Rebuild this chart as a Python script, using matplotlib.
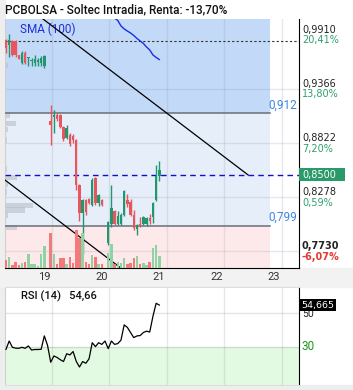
import matplotlib
matplotlib.use("Agg")
import matplotlib.pyplot as plt
import matplotlib.transforms as mtransforms
from matplotlib.patches import Rectangle
import numpy as np

# ---------------- data ----------------
opens = [0.9863, 0.9812, 0.9847, 0.9847, 0.9706, 0.9631, 0.9732, 0.9678, 0.9648, 0.9631, 0.9640, 0.9631, 0.9595,
         np.nan,
         0.9047, 0.9087, 0.9104, 0.9104, 0.8986, 0.8869, 0.8903, 0.8893, 0.8852, 0.8399, 0.8117, 0.8248, 0.8258,
         0.8197, 0.8466, 0.8218, 0.8248,
         np.nan,
         0.7815, 0.8006, 0.8137, 0.8006, 0.8006, 0.8097, 0.8248, 0.8228, 0.8097, 0.7956, 0.8006, 0.8006, 0.8006,
         0.8066, 0.8077, 0.8248, 0.8490]
highs = [0.9873, 0.9920, 0.9863, 0.9855, 0.9712, 0.9744, 0.9744, 0.9688, 0.9678, 0.9712, 0.9678, 0.9695, 0.9712,
         np.nan,
         0.9205, 0.9154, 0.9121, 0.9110, 0.8996, 0.9003, 0.8920, 0.8910, 0.8859, 0.8409, 0.8260, 0.8258, 0.8268,
         0.8466, 0.8476, 0.8310, 0.8258,
         np.nan,
         0.8036, 0.8399, 0.8147, 0.8137, 0.8117, 0.8351, 0.8308, 0.8258, 0.8147, 0.8006, 0.8077, 0.8087, 0.8077,
         0.8107, 0.8228, 0.8600, 0.8640]
lows = [0.9729, 0.9688, 0.9700, 0.9690, 0.9665, 0.9614, 0.9620, 0.9595, 0.9598, 0.9595, 0.9595, 0.9595, 0.9578,
        np.nan,
        0.8802, 0.8923, 0.9047, 0.8970, 0.8840, 0.8859, 0.8795, 0.8818, 0.8349, 0.8036, 0.7700, 0.8097, 0.8208,
        0.8187, 0.8200, 0.8188, 0.8187,
        np.nan,
        0.7794, 0.7976, 0.7996, 0.7996, 0.7996, 0.8087, 0.8177, 0.8087, 0.7946, 0.7895, 0.7976, 0.7996, 0.7986,
        0.8006, 0.8016, 0.8238, 0.8440]
closes = [0.9779, 0.9863, 0.9712, 0.9706, 0.9672, 0.9732, 0.9631, 0.9688, 0.9658, 0.9665, 0.9655, 0.9678, 0.9695,
          np.nan,
          0.9003, 0.9104, 0.9061, 0.8986, 0.8859, 0.8976, 0.8812, 0.8852, 0.8399, 0.8120, 0.8248, 0.8130, 0.8218,
          0.8449, 0.8214, 0.8298, 0.8197,
          np.nan,
          0.8026, 0.8167, 0.8006, 0.8087, 0.8097, 0.8341, 0.8208, 0.8097, 0.7966, 0.7996, 0.7986, 0.8077, 0.8066,
          0.8036, 0.8218, 0.8490, 0.8550]
volumes = [80, 110, 30, 60, 30, 50, 60, 140, 40, 40, 20, 140, 220,
           np.nan,
           350, 140, 40, 100, 100, 40, 110, 50, 380, 300, 350, 60, 40, 130, 110, 40, 40,
           np.nan,
           150, 240, 40, 60, 50, 100, 40, 50, 100, 120, 40, 50, 30, 60, 200, 230, 120]
rsi = [28.6, 33.5, 29.8, 29.3, 29.2, 29.8, 29.2, 30.6, 28.2, 28.5, 28.5, 28.6, 36.5, 31.0,
       21.0, 24.7, 23.8, 22.5, 21.4, 26.0, 25.3, 27.3, 21.5, 18.2, 21.4, 20.4, 23.0, 32.5, 30.2, 32.5, 31.5,
       33.5, 29.0, 33.5, 31.5, 32.0, 34.0, 43.0, 41.5, 38.5, 35.5, 36.5, 36.7, 38.5, 39.3, 38.8, 48.0, 55.7, 54.665]
sma_start = 34
sma100 = [1.0081, 1.0056, 1.0001, 0.9971, 0.9950, 0.9930, 0.9905, 0.9875, 0.9850, 0.9825, 0.9789, 0.9759,
          0.9709, 0.9684, 0.9663]

vp_prices = [0.9600, 0.9105, 0.9021, 0.8960, 0.8854, 0.8562, 0.8476, 0.8404, 0.8329, 0.8195, 0.8145, 0.8095, 0.7970]
vp_volumes = [3, 5, 11, 3, 2, 2, 12, 3, 2, 28, 20, 3, 12]

day_labels = ['19', '20', '21', '22', '23']
price_ticks = [0.9910, 0.9366, 0.8822, 0.8278, 0.7730]
price_tick_labels = ['0,9910', '0,9366', '0,8822', '0,8278', '0,7730']
pct_labels = ['20,41%', '13,80%', '7,20%', '0,59%', '-6,07%']

upper_level = 0.912
lower_level = 0.799
last_price = 0.8500
session_high = 0.985
trend_upper = [(5.0, 1.0232), (75.8, 0.8500)]
trend_lower = [(-1.0, 0.8466), (38.0, 0.7512)]
rsi_last = 54.665

title = 'PCBOLSA - Soltec Intradia, Renta: -13,70%'

# ---------------- layout ----------------
W, H = 353, 390
fig = plt.figure(figsize=(W / 100, H / 100), dpi=100, facecolor='white')
FONT = ['Roboto', 'DejaVu Sans']

def frect(x0, y0, x1, y1, color):
    fig.patches.append(Rectangle((x0 / W, 1 - y1 / H), (x1 - x0) / W, (y1 - y0) / H,
                                 transform=fig.transFigure, color=color, zorder=-10))

frect(0, 0, 5, H, '#eeeeee')
frect(0, 268, W, 287, '#f2f2f2')
frect(0, 385, W, H, '#eeeeee')

ax = fig.add_axes([5 / W, 1 - 268 / H, 294 / W, 249 / H])
axr = fig.add_axes([5 / W, 1 - 385 / H, 294 / W, 98 / H])

n = len(closes)
x = np.arange(n)
XMIN, XMAX = -0.31, 91.73
ax.set_xlim(XMIN, XMAX)
ax.set_ylim(0.7563, 1.0071)
axr.set_xlim(XMIN, XMAX)
axr.set_ylim(7.6, 65.3)

zone_end = 82.7
ax.fill_between([XMIN, zone_end], upper_level, 1.1, color='#c2d9f8', lw=0, zorder=0)
ax.fill_between([XMIN, zone_end], lower_level, upper_level, color='#e5eef9', lw=0, zorder=0)
ax.fill_between([XMIN, zone_end], 0.7, lower_level, color='#fde9e9', lw=0, zorder=0)

grid_col = (0.55, 0.6, 0.7, 0.22)
slots_per_day = 18
grid_x = [14.4 + slots_per_day * k for k in range(len(day_labels))]
tick_x = [11.9 + slots_per_day * k for k in range(len(day_labels))]
for gx in grid_x:
    ax.axvline(gx, color=grid_col, lw=1, zorder=1)
    axr.axvline(gx, color=(0.5, 0.5, 0.5, 0.18), lw=1, zorder=1)
for p in price_ticks[1:]:
    ax.axhline(p, color=grid_col, lw=1, zorder=1)

# volume profile
vp_scale = 1 / 3.194
ax.barh(vp_prices, np.array(vp_volumes) * vp_scale, height=0.0055, left=XMIN,
        color='#b9bfc8', alpha=0.6, lw=0, zorder=2)

# volume bars
axv = ax.twinx()
axv.set_ylim(0, 2490)
axv.set_axis_off()
o = np.array(opens); c = np.array(closes); h = np.array(highs); l = np.array(lows)
up = c >= o
vcol = np.where(up, '#8fd3a4', '#f27a7a')
axv.bar(x, volumes, width=0.78, color=vcol, lw=0, zorder=2)
axv.set_xlim(XMIN, XMAX)

# levels
ax.plot([XMIN, zone_end], [upper_level, upper_level], color='#6a6f78', lw=1.1, zorder=3)
ax.plot([XMIN, zone_end], [lower_level, lower_level], color='#6a6f78', lw=1.1, zorder=3)
ax.axhline(session_high, color='#333333', lw=0.8, ls=(0, (2, 2)), zorder=3)
ax.axhline(last_price, color='#1010c8', lw=1.0, ls=(0, (4, 3)), zorder=3)

# candles
cgreen, cred = '#22966c', '#e8555c'
for i in range(n):
    if np.isnan(o[i]):
        continue
    col = cgreen if up[i] else cred
    ax.plot([i, i], [l[i], h[i]], color=col, lw=1, zorder=5, solid_capstyle='butt')
    lo_b, hi_b = min(o[i], c[i]), max(o[i], c[i])
    ax.add_patch(Rectangle((i - 0.38, lo_b), 0.76, max(hi_b - lo_b, 0.0008),
                           color=col, lw=0, zorder=6))

# trend lines
ax.plot(*zip(*trend_upper), color='black', lw=0.9, zorder=7)
ax.plot(*zip(*trend_lower), color='black', lw=0.9, zorder=7)

# SMA
ax.plot(np.arange(sma_start, sma_start + len(sma100)), sma100, color='#1a2ee0', lw=1, zorder=7)
ax.text(15 / 294, 1 - 10 / 249, 'SMA (100)', transform=ax.transAxes, color='#2030d8',
        fontsize=8.5, family=FONT, va='center', ha='left')

# blue level labels (right-aligned next to the price axis)
btr = mtransforms.blended_transform_factory(ax.transAxes, ax.transData)
for lvl, lab in [(upper_level, '0,912'), (lower_level, '0,799')]:
    ax.text(1 - 2 / 294, lvl, lab, transform=mtransforms.offset_copy(btr, fig=fig, x=0, y=1.5, units='dots'),
            color='#3b86e6', fontsize=8.5, family=FONT, ha='right', va='bottom', zorder=8)

# spines / ticks main
ax.spines['top'].set_visible(False)
ax.spines['left'].set_color('#d0d0d0')
ax.spines['right'].set_color('black')
ax.spines['bottom'].set_color('black')
ax.set_yticks([])
ax.set_xticks(tick_x)
ax.set_xticklabels(day_labels, family=FONT, fontsize=8, color='#333333')
ax.tick_params(axis='x', length=0, pad=3)

# right price labels
t_up = mtransforms.offset_copy(btr, fig=fig, x=3, y=5, units='dots')
t_dn = mtransforms.offset_copy(btr, fig=fig, x=3, y=-5.5, units='dots')
for k, (p, lab, pct) in enumerate(zip(price_ticks, price_tick_labels, pct_labels)):
    bold = (k == len(price_ticks) - 1)
    ax.text(1.0, p, lab, transform=t_up, fontsize=7, color='#222222', ha='left', va='center',
            family=['DejaVu Sans'], fontweight='bold' if bold else 'normal')
    ax.text(1.0, p, pct, transform=t_dn, fontsize=7, ha='left', va='center',
            color='#e53935' if pct.startswith('-') else '#2e9e6e', family=['DejaVu Sans'],
            fontweight='bold' if bold else 'normal')

ax.add_patch(Rectangle((1.0, last_price - 0.00655), 46 / 294, 0.0131, transform=btr,
                       color='#2a9a6a', lw=0, clip_on=False, zorder=9))
ax.text(1.0, last_price, '0,8500', transform=mtransforms.offset_copy(btr, fig=fig, x=3, y=0, units='dots'),
        fontsize=7, color='white', ha='left', va='center', family=['DejaVu Sans'], zorder=10)

# title
fig.text(5 / W, 1 - 10 / H, title, fontsize=8.5, family=FONT, color='#111111', va='center', ha='left',
         fontweight='medium')

# ---------------- RSI ----------------
axr.axhspan(0, 30, color='#e2fae2', lw=0, zorder=0)
axr.axhline(50, color=(0.5, 0.5, 0.5, 0.2), lw=1, zorder=1)
axr.axhline(30, color=(0.5, 0.5, 0.5, 0.25), lw=1, zorder=1)
axr.plot(np.arange(len(rsi)), rsi, color='black', lw=0.9, zorder=3)
axr.set_xticks([]); axr.set_yticks([])
axr.spines['top'].set_color('#dddddd')
axr.spines['left'].set_color('#d0d0d0')
axr.spines['bottom'].set_color('#dddddd')
axr.spines['right'].set_color('black')
axr.text(16 / 294, 1 - 9 / 98, 'RSI (14)   54,66', transform=axr.transAxes, fontsize=8, family=FONT,
         color='#111111', va='center', ha='left', fontweight='medium')
rtr = mtransforms.blended_transform_factory(axr.transAxes, axr.transData)
axr.text(1.0, 30, '30', transform=mtransforms.offset_copy(rtr, fig=fig, x=3, y=0, units='dots'),
         fontsize=8.5, color='#1a9a1a', ha='left', va='center', family=FONT)
axr.text(1.0, 50, '50', transform=mtransforms.offset_copy(rtr, fig=fig, x=3, y=-1, units='dots'),
         fontsize=7.5, color='#222222', ha='left', va='center', family=FONT)
axr.add_patch(Rectangle((1.0, rsi_last - 3.6), 37 / 294, 7.2, transform=rtr, color='black', lw=0,
                        clip_on=False, zorder=9))
axr.text(1.0, rsi_last, '54,665', transform=mtransforms.offset_copy(rtr, fig=fig, x=2, y=0, units='dots'),
         fontsize=6.8, color='white', ha='left', va='center', family=['DejaVu Sans'], zorder=10)

fig.savefig('out.png', dpi=100, facecolor=fig.get_facecolor())
